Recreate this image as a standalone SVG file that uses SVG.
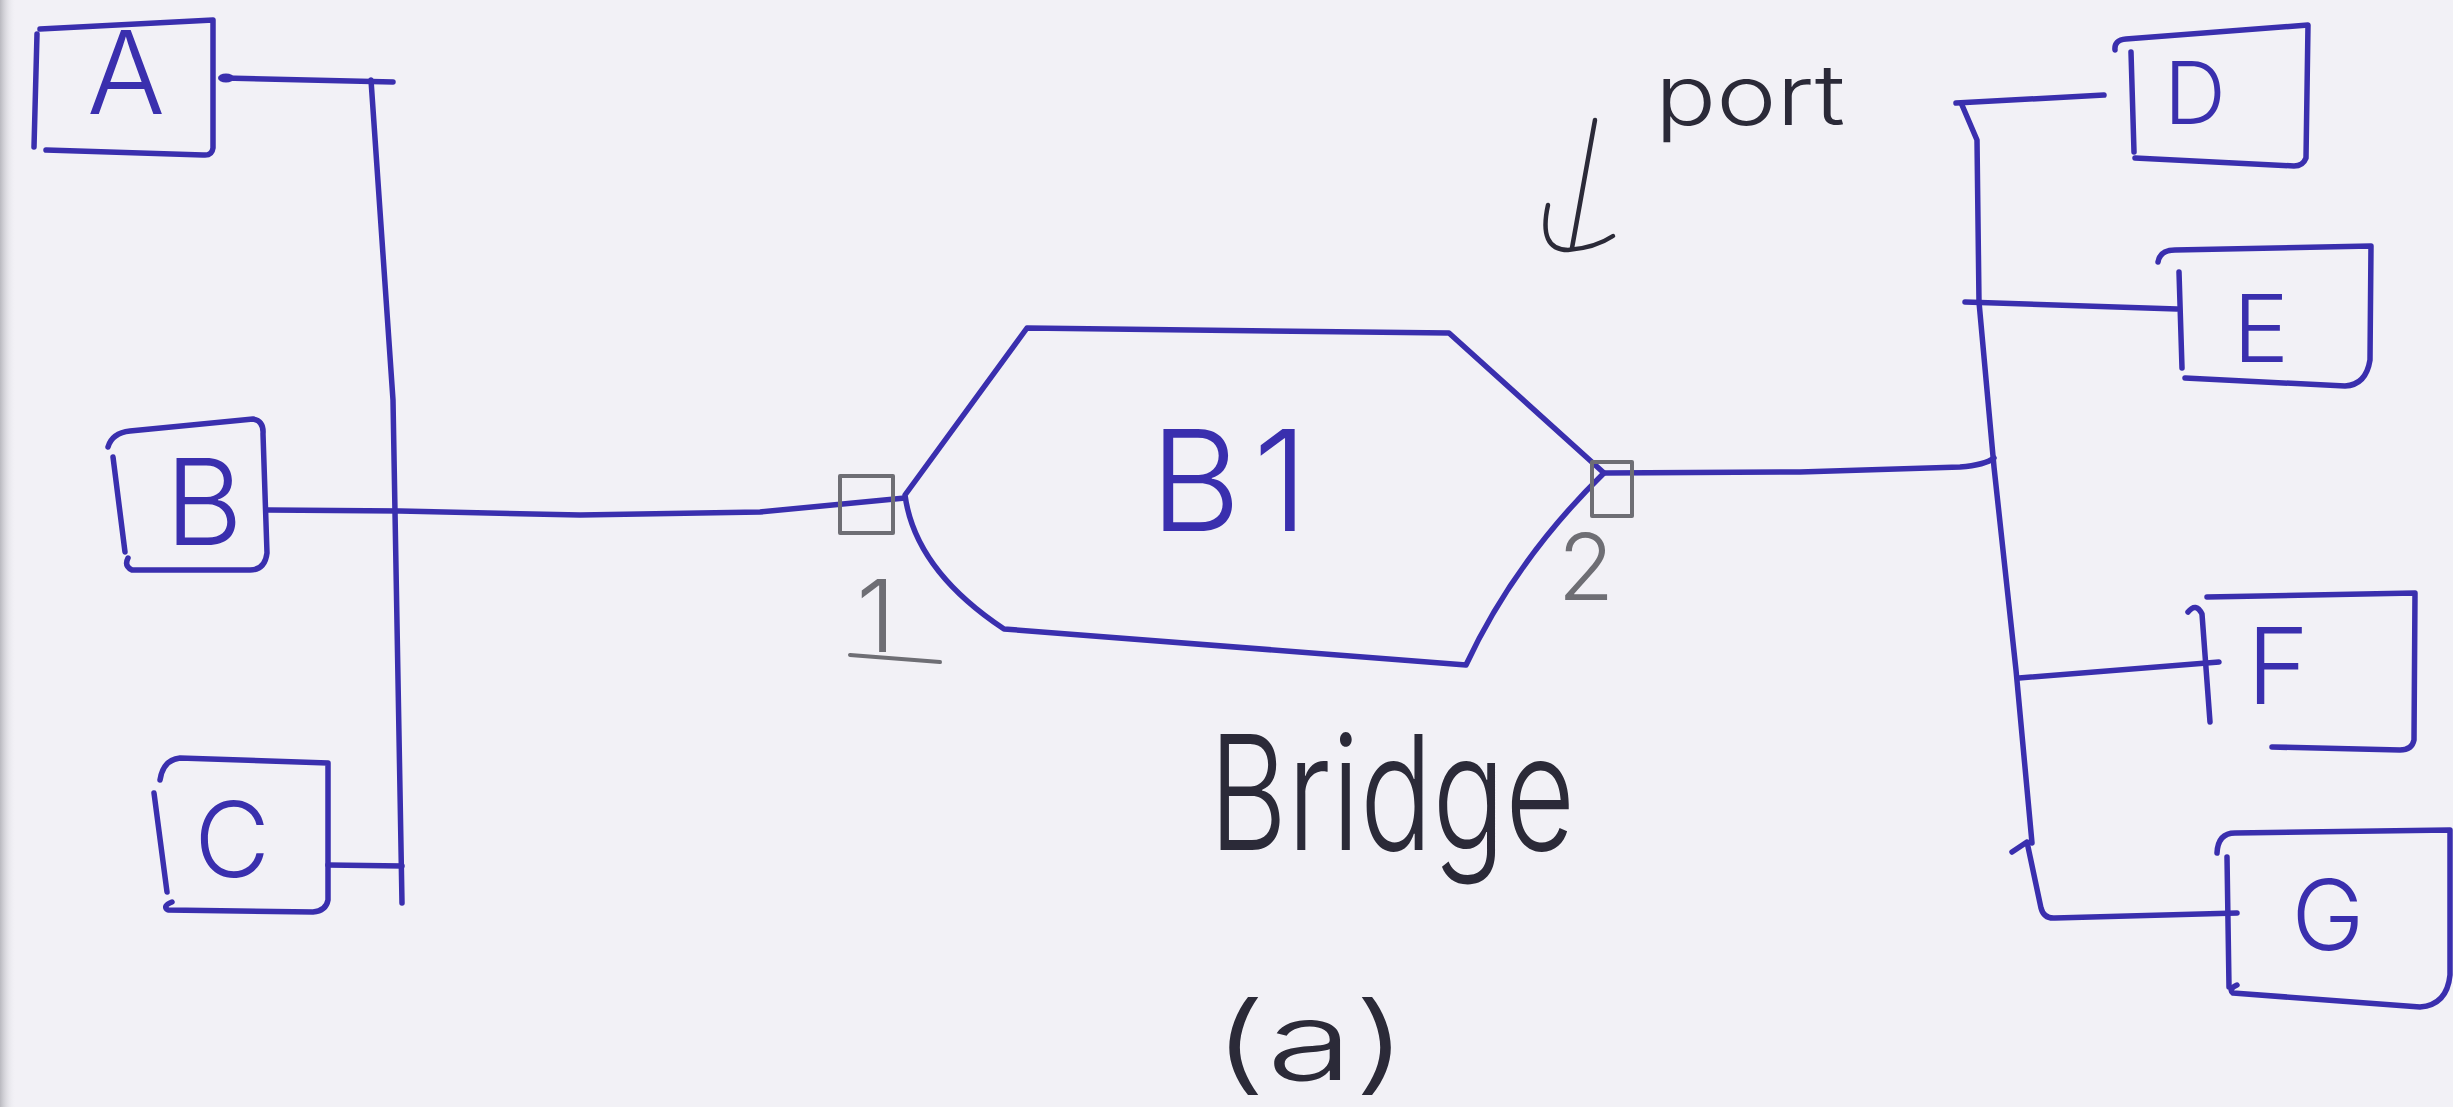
<svg xmlns="http://www.w3.org/2000/svg" width="2453" height="1107" viewBox="0 0 2453 1107">
<defs>
<style>
.ink{fill:none;stroke:#3a2fae;stroke-width:5.5;stroke-linecap:round;stroke-linejoin:round}
.pen{fill:none;stroke:#2b2a38;stroke-width:4.5;stroke-linecap:round;stroke-linejoin:round}
.gray{fill:none;stroke:#6e6e74;stroke-width:4;stroke-linecap:round;stroke-linejoin:round}
.lbl{font-family:Inter,"Liberation Sans",sans-serif;font-weight:300;fill:#3a2fae;text-anchor:middle}
.hw{font-family:Inter,"Liberation Sans",sans-serif;font-weight:300;fill:#2b2a38}
.gl{font-family:Inter,"Liberation Sans",sans-serif;font-weight:300;fill:#6e6e74;text-anchor:middle}
</style>
<linearGradient id="edge" x1="0" y1="0" x2="1" y2="0">
<stop offset="0" stop-color="#b9b9bf"/>
<stop offset="1" stop-color="#f2f1f6" stop-opacity="0"/>
</linearGradient>
</defs>
<rect width="2453" height="1107" fill="#f2f1f6"/>
<rect width="16" height="1107" fill="url(#edge)"/>

<g id="connectors">
<path class="ink" d="M371,80 L393,400 L402,903"/>
<path class="ink" d="M224,78 L393,82"/>
<ellipse cx="226" cy="78" rx="8" ry="4.5" fill="#3a2fae"/>
<path class="ink" d="M268,510 L400,511 L580,515 L760,512 L905,498"/>
<path class="ink" d="M328,865 L402,866"/>
<path class="ink" d="M1604,473 L1800,472 L1960,467 Q1985,465 1994,458"/>
<path class="ink" d="M1956,103 L2104,95"/>
<path class="ink" d="M1962,105 L1977,140 L1979,302 L1994,467 L2016,670 L2032,843"/>
<path class="ink" d="M1965,302 L2177,309"/>
<path class="ink" d="M2019,678 L2219,662"/>
<path class="ink" d="M2237,913 L2055,918 Q2044,919 2041,908 L2027,842 L2012,852"/>
</g>

<g id="node-A">
<path class="ink" d="M40,29 L213,20 L213,148 Q212,156 203,155 L46,150"/>
<path class="ink" d="M37,34 L34,147"/>
<text class="lbl" x="126" y="114" font-size="116">A</text>
</g>

<g id="node-B">
<path class="ink" d="M108,447 Q112,433 130,431 L253,419 Q264,421 263,434 L267,553 Q265,570 250,570 L132,570 Q124,566 128,558"/>
<path class="ink" d="M113,457 L125,552"/>
<text class="lbl" x="204" y="545" font-size="120">B</text>
</g>

<g id="node-C">
<path class="ink" d="M160,780 Q163,760 180,758 L328,763 L328,900 Q326,911 313,912 L168,910 Q162,906 172,902"/>
<path class="ink" d="M154,793 L167,892"/>
<text class="lbl" x="232" y="877" font-size="104">C</text>
</g>

<g id="node-B1">
<path class="ink" d="M1027,328 L1449,333 L1604,473 Q1515,560 1466,665 L1004,629 Q915,570 905,495 Z"/>
<rect x="840" y="476" width="53" height="57" class="gray"/>
<rect x="1592" y="462" width="40" height="54" class="gray"/>
<text class="lbl" x="1235" y="531" font-size="140" letter-spacing="12">B1</text>
</g>

<g id="label-ports">
<text class="gl" x="876" y="652" font-size="100">1</text>
<path class="gray" d="M850,655 L940,662"/>
<text class="gl" x="1586" y="600" font-size="92">2</text>
</g>

<g id="label-port">
<path class="pen" d="M1595,120 L1572,248"/>
<path class="pen" d="M1548,205 Q1538,250 1568,250 Q1595,248 1613,236"/>
<text class="hw" x="1655" y="125" font-size="84" textLength="190" lengthAdjust="spacingAndGlyphs">port</text>
</g>

<g id="node-D">
<path class="ink" d="M2115,50 Q2114,40 2126,39 L2308,25 L2306,158 Q2303,166 2294,166 L2135,158"/>
<path class="ink" d="M2131,52 L2134,152"/>
<text class="lbl" x="2195" y="124" font-size="86">D</text>
</g>

<g id="node-E">
<path class="ink" d="M2158,262 Q2160,250 2175,250 L2371,246 L2370,360 Q2366,385 2345,386 L2185,378"/>
<path class="ink" d="M2179,272 L2182,368"/>
<text class="lbl" x="2261" y="362" font-size="94">E</text>
</g>

<g id="node-F">
<path class="ink" d="M2207,597 L2415,593 L2414,740 Q2412,750 2400,750 L2272,747"/>
<path class="ink" d="M2188,612 Q2196,602 2202,614 L2210,722"/>
<text class="lbl" x="2278" y="704" font-size="106">F</text>
</g>

<g id="node-G">
<path class="ink" d="M2217,853 Q2218,833 2235,833 L2450,830 L2450,975 Q2447,1005 2420,1007 L2233,993 Q2228,989 2237,985"/>
<path class="ink" d="M2227,857 L2229,987"/>
<text class="lbl" x="2328" y="950" font-size="98">G</text>
</g>

<g id="captions">
<text class="hw" x="1209" y="850" font-size="160" textLength="366" lengthAdjust="spacingAndGlyphs">Bridge</text>
<text class="hw" x="1212" y="1080" font-size="108" textLength="196" lengthAdjust="spacingAndGlyphs">(a)</text>
</g>
</svg>
